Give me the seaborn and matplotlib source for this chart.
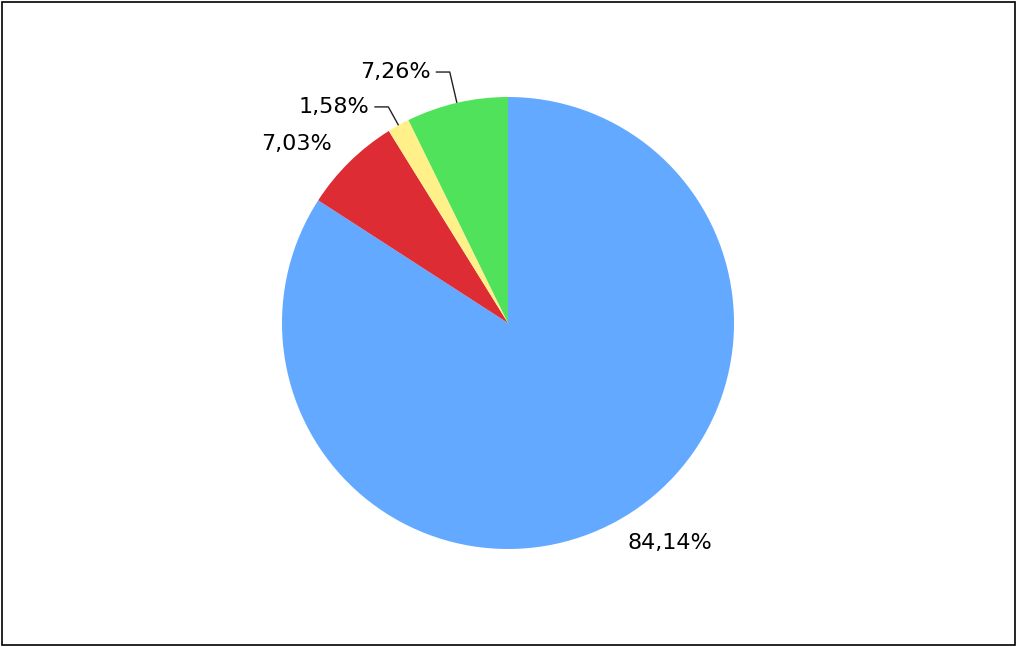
import numpy as np
import matplotlib
matplotlib.use("Agg")
import matplotlib.pyplot as plt
import seaborn as sns

sns.set_theme(style="white")
plt.rcParams["font.family"] = ["DejaVu Sans"]

# data
shares = [84.14, 7.03, 1.58, 7.26]
labels = ["84,14%", "7,03%", "1,58%", "7,26%"]
colors = ["#63A9FF", "#DD2C33", "#FFF08A", "#50E25A"]

# layout: which labels get a leader line, and the elbow radius
leader = {2: 1.093, 3: 1.14}
FS = 16

W, H = 1017, 647
fig = plt.figure(figsize=(W / 100, H / 100), dpi=100)
cx, cy, r = 508, H - 323, 226
ax = fig.add_axes([(cx - r) / W, (cy - r) / H, 2 * r / W, 2 * r / H])

wedges, _ = ax.pie(shares, colors=sns.color_palette(colors), startangle=90,
                   counterclock=False, radius=1, center=(0, 0),
                   wedgeprops=dict(linewidth=0), frame=False)
ax.set_xlim(-1, 1); ax.set_ylim(-1, 1); ax.axis("off")

for i, (w, lab) in enumerate(zip(wedges, labels)):
    mid = np.deg2rad((w.theta1 + w.theta2) / 2)
    ux, uy = np.cos(mid), np.sin(mid)
    if i in leader:
        re = leader[i]
        ex, ey = re * ux, re * uy
        hx = ex - 0.062
        ax.plot([ux, ex, hx], [uy, ey, ey], color="#222222", lw=1.0,
                solid_capstyle="butt", clip_on=False)
        ax.text(hx - 0.022, ey, lab, ha="right", va="center", fontsize=FS,
                color="black", clip_on=False)
    else:
        tx, ty = 1.11 * ux, 1.11 * uy
        ax.text(tx, ty, lab, ha="left" if tx > 0 else "right", va="center",
                fontsize=FS, color="black", clip_on=False)

fig.patches.append(plt.Rectangle((1.5 / W, 2 / H), 1013.5 / W, 643 / H,
                                 transform=fig.transFigure, fill=False,
                                 edgecolor="black", linewidth=1.2))
fig.savefig("out.png", dpi=100, facecolor="white")
